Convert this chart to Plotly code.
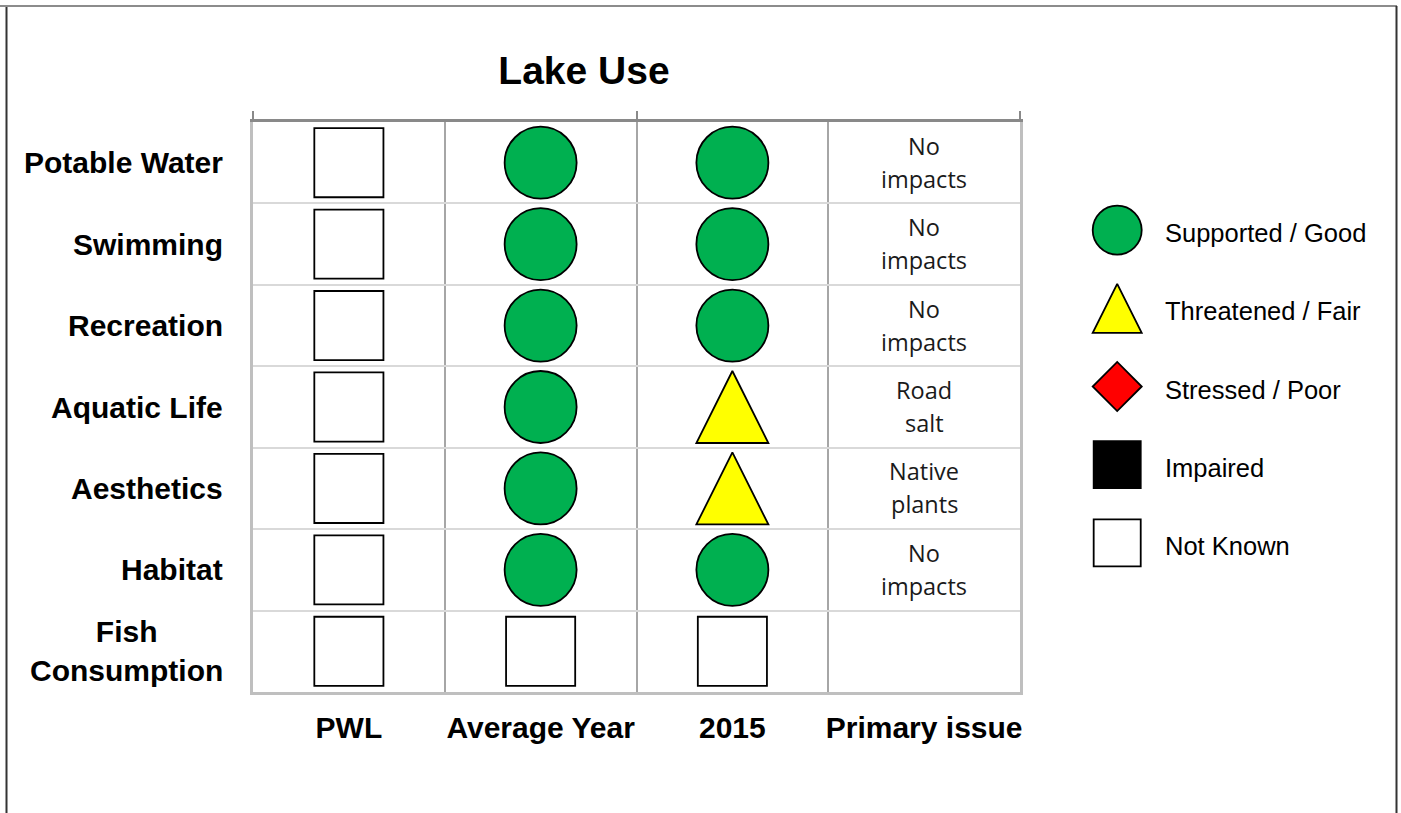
import plotly.graph_objects as go

# ---------------- data ----------------
rows = ["Potable Water", "Swimming", "Recreation", "Aquatic Life",
        "Aesthetics", "Habitat", "Fish<br>Consumption"]
columns = ["PWL", "Average Year", "2015", "Primary issue"]

pwl_status = ["Not Known", "Not Known", "Not Known", "Not Known",
              "Not Known", "Not Known", "Not Known"]
avg_year_status = ["Supported / Good", "Supported / Good", "Supported / Good",
                   "Supported / Good", "Supported / Good", "Supported / Good",
                   "Not Known"]
y2015_status = ["Supported / Good", "Supported / Good", "Supported / Good",
                "Threatened / Fair", "Threatened / Fair", "Supported / Good",
                "Not Known"]
primary_issue = ["No impacts", "No impacts", "No impacts", "Road salt",
                 "Native plants", "No impacts", ""]

legend_labels = ["Supported / Good", "Threatened / Fair", "Stressed / Poor",
                 "Impaired", "Not Known"]

title_text = "Lake Use"

# ---------------- styles ----------------
W, H = 1401, 813
status_style = {
    "Supported / Good": dict(symbol="circle", color="#00B050", scale=1.0, tri=False),
    "Threatened / Fair": dict(symbol="arrow-down", color="#FFFF00", scale=1.0, tri=True),
    "Stressed / Poor": dict(symbol="diamond", color="#FF0000", scale=0.77, tri=False),
    "Impaired": dict(symbol="square", color="#000000", scale=0.96, tri=False),
    "Not Known": dict(symbol="square", color="#FFFFFF", scale=0.96, tri=False),
}

def marker_for(status, size):
    st = status_style[status]
    s = size * st["scale"]
    m = dict(symbol=st["symbol"], color=st["color"], size=s,
             line=dict(color="#000000", width=1.8))
    if st["tri"]:
        m["angle"] = 180
        m["standoff"] = s / 2
    return m

fig = go.Figure()

# table markers
col_status = {"PWL": pwl_status, "Average Year": avg_year_status, "2015": y2015_status}
for status in legend_labels:
    xs, ys = [], []
    for col, vals in col_status.items():
        for r, v in zip(rows, vals):
            if v == status:
                xs.append(col)
                ys.append(r)
    if xs:
        fig.add_trace(go.Scatter(
            x=xs, y=ys, mode="markers", marker=marker_for(status, 72),
            showlegend=False, hoverinfo="skip", cliponaxis=False))

# dummy trace for the top axis
fig.add_trace(go.Scatter(x=[None], y=[None], xaxis="x2", yaxis="y",
                         showlegend=False, hoverinfo="skip"))

# legend markers
for lab in legend_labels:
    fig.add_trace(go.Scatter(
        x=[0.12], y=[lab], xaxis="x3", yaxis="y3", mode="markers",
        marker=marker_for(lab, 49), showlegend=False, hoverinfo="skip",
        cliponaxis=False))

annotations = []
# row labels
for r in rows:
    annotations.append(dict(
        x=225 / W, xref="paper", y=r, yref="y", text=r, showarrow=False,
        xanchor="right", yanchor="middle", align="center",
        font=dict(family="Arial, Liberation Sans", size=30, color="#000000",
                  weight="bold")))
# primary issue text
for r, txt in zip(rows, primary_issue):
    if not txt:
        continue
    parts = txt.split(" ", 1)
    for k, part in enumerate(parts):
        annotations.append(dict(
            x="Primary issue", xref="x", y=r, yref="y", text=part,
            showarrow=False, xanchor="center", yanchor="middle",
            yshift=17 if k == 0 else -16,
            font=dict(family="Open Sans", size=23.5, color="#1a1a1a")))
# legend text
for lab in legend_labels:
    annotations.append(dict(
        x=0.268, xref="x3", y=lab, yref="y3", text=lab, showarrow=False,
        xanchor="left", yanchor="middle", yshift=-3,
        font=dict(family="Arial, Liberation Sans", size=25.5, color="#000000")))

shapes = [
    # page frame
    dict(type="line", xref="paper", yref="paper", x0=0, x1=1397 / W,
         y0=(H - 6) / H, y1=(H - 6) / H, line=dict(color="#8c8c8c", width=2)),
    dict(type="line", xref="paper", yref="paper", x0=6.5 / W, x1=6.5 / W,
         y0=0, y1=(H - 7) / H, line=dict(color="#333333", width=2)),
    dict(type="line", xref="paper", yref="paper", x0=1396.5 / W, x1=1396.5 / W,
         y0=0, y1=(H - 6) / H, line=dict(color="#333333", width=2)),
]

x_dom = [253 / W, 1020 / W]
y_dom = [(H - 692) / H, (H - 122) / H]

fig.update_layout(
    width=W, height=H,
    margin=dict(l=0, r=0, t=0, b=0),
    paper_bgcolor="white", plot_bgcolor="white",
    showlegend=False,
    title=dict(text=title_text, x=584 / W, xref="paper", xanchor="center",
               y=(H - 70) / H, yref="paper", yanchor="middle",
               font=dict(family="Arial, Liberation Sans", size=39,
                         color="#000000", weight="bold")),
    xaxis=dict(domain=x_dom, type="category", categoryorder="array",
               categoryarray=columns, range=[-0.5, 3.5], tickson="boundaries",
               showgrid=True, gridcolor="#A6A6A6", gridwidth=2,
               showline=True, linecolor="#BFBFBF", linewidth=2.5,
               ticks="", ticklabelstandoff=7, tickangle=0, automargin=False,
               tickfont=dict(family="Arial, Liberation Sans", size=30,
                             color="#000000", weight="bold"),
               zeroline=False, fixedrange=True),
    xaxis2=dict(domain=x_dom, overlaying="x", anchor="y", side="top",
                type="linear", range=[-0.5, 3.5], tickvals=[-0.5, 1.5, 3.5],
                ticks="outside", ticklen=8, tickwidth=2, tickcolor="#898989",
                showticklabels=False, showgrid=False, zeroline=False,
                showline=True, linecolor="#898989", linewidth=2.5,
                automargin=False, fixedrange=True),
    yaxis=dict(domain=y_dom, type="category", categoryorder="array",
               categoryarray=rows, range=[6.5, -0.5], tickson="boundaries",
               showgrid=True, gridcolor="#D9D9D9", gridwidth=2,
               showline=True, mirror=True, linecolor="#BFBFBF", linewidth=2.5,
               ticks="", showticklabels=False, zeroline=False,
               automargin=False, fixedrange=True),
    xaxis3=dict(domain=[1080 / W, 1390 / W], range=[0, 1], visible=False,
                anchor="y3", fixedrange=True),
    yaxis3=dict(domain=[(H - 582) / H, (H - 191) / H], type="category",
                categoryorder="array", categoryarray=legend_labels,
                range=[4.5, -0.5], visible=False, anchor="x3", fixedrange=True),
    annotations=annotations,
    shapes=shapes,
)

fig.write_html("out.html",
               config={"displayModeBar": False},
               post_script="document.body.style.margin='0';"
                           "document.body.style.overflow='hidden';")
